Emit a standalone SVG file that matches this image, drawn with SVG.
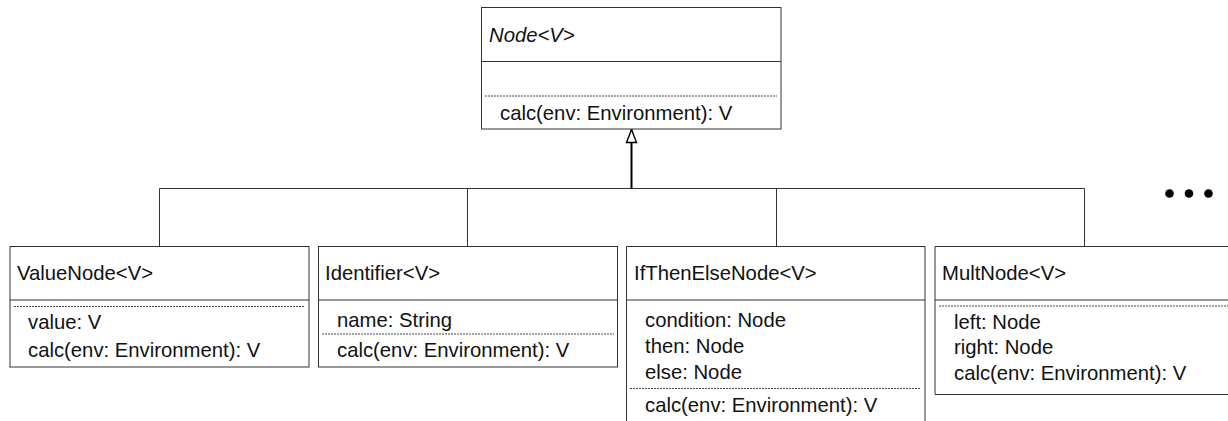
<svg xmlns="http://www.w3.org/2000/svg" width="1228" height="421" viewBox="0 0 1228 421">
<style>
.box{fill:#fff;stroke:#333;stroke-width:1}
.sep{stroke:#333;stroke-width:1}
.dot{stroke:#444;stroke-width:1;stroke-dasharray:2 1}
.t{font-family:"Liberation Sans",Arial,sans-serif;font-size:20.3px;fill:#111}
.it{font-style:italic}
.conn{stroke:#333;stroke-width:1;fill:none}
</style>
<defs>
<marker id="tri" markerWidth="16" markerHeight="13" refX="15" refY="6.5" orient="auto" markerUnits="userSpaceOnUse" viewBox="0 0 16 13">
<path d="M15,6.5 L2,1.5 L2,11.5 Z" fill="#fff" stroke="#000" stroke-width="1.4"/>
</marker>
</defs>
<g id="connectors">
<path class="conn" d="M159.5,246.5 V188.5 H1084.5 V246"/>
<path class="conn" d="M467.5,188.5 V246.5"/>
<path class="conn" d="M776.5,188.5 V246.5"/>
<path d="M631.5,188.5 V129.5" stroke="#000" stroke-width="2" fill="none" marker-end="url(#tri)"/>
</g>
<g id="node">
<rect class="box" x="481.5" y="7.5" width="299.5" height="121.5"/>
<line class="sep" x1="481.5" y1="61.5" x2="781" y2="61.5"/>
<line class="dot" x1="485" y1="96" x2="777" y2="96"/>
<text class="t it" x="489" y="41.5">Node&lt;V&gt;</text>
<text class="t" x="500" y="120">calc(env: Environment): V</text>
</g>
<g id="valuenode">
<rect class="box" x="10" y="246.5" width="299" height="120.5"/>
<line class="sep" x1="10" y1="300" x2="309" y2="300"/>
<line class="dot" x1="14" y1="306.5" x2="305" y2="306.5"/>
<text class="t" x="17" y="280">ValueNode&lt;V&gt;</text>
<text class="t" x="28" y="328.5">value: V</text>
<text class="t" x="28" y="356.5">calc(env: Environment): V</text>
</g>
<g id="identifier">
<rect class="box" x="318.5" y="246.5" width="299" height="120.5"/>
<line class="sep" x1="318.5" y1="300" x2="617.5" y2="300"/>
<line class="dot" x1="322" y1="334" x2="614" y2="334"/>
<text class="t" x="325" y="280">Identifier&lt;V&gt;</text>
<text class="t" x="337" y="326.5">name: String</text>
<text class="t" x="337" y="356.5">calc(env: Environment): V</text>
</g>
<g id="ifthenelse">
<path class="box" d="M626.5,425 V246.5 H925 V425"/>
<line class="sep" x1="626.5" y1="300" x2="925" y2="300"/>
<line class="dot" x1="630" y1="388.5" x2="921" y2="388.5"/>
<text class="t" x="634" y="280">IfThenElseNode&lt;V&gt;</text>
<text class="t" x="645" y="326.5">condition: Node</text>
<text class="t" x="645" y="352.5">then: Node</text>
<text class="t" x="645" y="378.5">else: Node</text>
<text class="t" x="645" y="411.5">calc(env: Environment): V</text>
</g>
<g id="multnode">
<path class="box" d="M1230,246.5 H935 V394.5 H1230"/>
<line class="sep" x1="935" y1="300" x2="1230" y2="300"/>
<line class="dot" x1="939" y1="306" x2="1230" y2="306"/>
<text class="t" x="942" y="280">MultNode&lt;V&gt;</text>
<text class="t" x="954" y="328.5">left: Node</text>
<text class="t" x="954" y="354">right: Node</text>
<text class="t" x="954" y="380">calc(env: Environment): V</text>
</g>
<g id="ellipsis">
<circle cx="1169.5" cy="193.5" r="4.3" fill="#000"/>
<circle cx="1189" cy="193.5" r="4.3" fill="#000"/>
<circle cx="1208.5" cy="193.5" r="4.3" fill="#000"/>
</g>
</svg>
